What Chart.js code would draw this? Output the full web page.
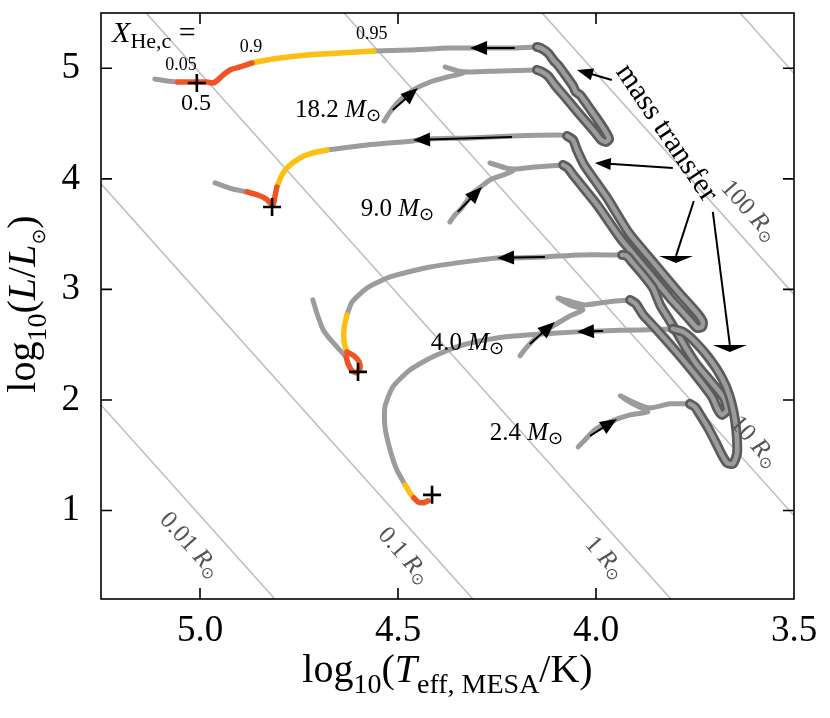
<!DOCTYPE html>
<html><head><meta charset="utf-8">
<script src="https://cdn.jsdelivr.net/npm/chart.js@4.4.1/dist/chart.umd.min.js"></script>
<style>html,body{margin:0;padding:0;background:#fff}canvas{display:block}</style>
</head><body>
<canvas id="c" width="830" height="718"></canvas>
<script>
// ---------- data: [log10 Teff, log10 L] ----------
const X_TICKS = [3.5, 4.0, 4.5, 5.0];
const Y_TICKS = [1, 2, 3, 4, 5];

// 18.2 Msun
const MS_182 = [[4.535,4.523],[4.520,4.605],[4.495,4.713],[4.462,4.804],[4.419,4.876],[4.376,4.921],[4.336,4.957],[4.356,4.985],[4.381,5.012],[4.349,4.976],[4.318,4.967],[4.242,4.976],[4.149,4.985]];
const MT_182 = [[4.149,4.985],[4.136,4.967],[4.121,4.930],[4.104,4.849],[4.078,4.740],[4.040,4.578],[4.003,4.424],[3.987,4.352],[3.975,4.334],[3.967,4.361],[3.980,4.451],[4.013,4.623],[4.040,4.759],[4.051,4.786],[4.058,4.840],[4.083,4.967],[4.096,5.030],[4.106,5.066],[4.121,5.138],[4.139,5.183],[4.149,5.193]];
const HE_182 = [[4.149,5.193],[4.205,5.183],[4.275,5.183],[4.369,5.183],[4.470,5.165],[4.561,5.156]];
const YEL_182 = [[4.561,5.156],[4.646,5.138],[4.730,5.120],[4.816,5.084],[4.869,5.048]];
const ORG_182 = [[4.869,5.048],[4.899,5.012],[4.924,4.985],[4.942,4.939],[4.955,4.894],[4.967,4.867],[4.982,4.876],[5.008,4.876],[5.056,4.876]];
const TAIL_182 = [[5.056,4.876],[5.083,4.885],[5.114,4.903]];

// 9.0 Msun
const MS_90 = [[4.369,3.610],[4.356,3.674],[4.343,3.719],[4.326,3.800],[4.311,3.872],[4.288,3.936],[4.268,3.990],[4.242,4.026],[4.210,4.071],[4.235,4.108],[4.268,4.144],[4.230,4.099],[4.205,4.089],[4.154,4.108],[4.083,4.126]];
const MT_90 = [[4.083,4.126],[4.071,4.099],[4.056,4.026],[3.997,3.764],[3.939,3.466],[3.876,3.194],[3.813,2.923],[3.763,2.724],[3.745,2.652],[3.732,2.661],[3.730,2.706],[3.745,2.787],[3.790,2.968],[3.854,3.240],[3.917,3.511],[3.970,3.818],[4.000,3.972],[4.030,4.126],[4.048,4.261],[4.058,4.352],[4.073,4.388]];
const HE_90 = [[4.073,4.388],[4.091,4.397],[4.212,4.388],[4.318,4.370],[4.427,4.361],[4.462,4.343],[4.578,4.306],[4.679,4.261]];
const YEL_90 = [[4.679,4.261],[4.715,4.234],[4.747,4.189],[4.778,4.108],[4.793,4.035],[4.806,3.927]];
const ORG_90 = [[4.806,3.927],[4.811,3.836],[4.816,3.764],[4.833,3.818],[4.854,3.854],[4.881,3.882]];
const TAIL_90 = [[4.881,3.882],[4.919,3.909],[4.962,3.963]];

// 4.0 Msun
const MS_40 = [[4.192,2.399],[4.172,2.489],[4.141,2.598],[4.104,2.679],[4.066,2.760],[4.033,2.815],[4.066,2.860],[4.096,2.923],[4.061,2.887],[4.028,2.860],[3.990,2.878],[3.952,2.896],[3.914,2.905]];
const MT_40 = [[3.914,2.905],[3.899,2.869],[3.881,2.769],[3.846,2.634],[3.795,2.426],[3.745,2.209],[3.707,2.028],[3.692,1.910],[3.682,1.865],[3.669,1.910],[3.677,2.019],[3.707,2.154],[3.745,2.317],[3.770,2.453],[3.795,2.607],[3.818,2.742],[3.838,2.860],[3.856,3.013],[3.881,3.131],[3.907,3.240],[3.922,3.303],[3.934,3.312]];
const HE_40 = [[3.934,3.312],[4.040,3.312],[4.129,3.294],[4.210,3.285],[4.250,3.285],[4.293,3.267],[4.419,3.203],[4.520,3.113],[4.578,3.013],[4.616,2.887],[4.629,2.769]];
const YEL_40 = [[4.629,2.769],[4.636,2.652],[4.636,2.525],[4.629,2.435]];
const ORG_40 = [[4.629,2.435],[4.611,2.399],[4.598,2.344],[4.596,2.290],[4.604,2.245],[4.616,2.263],[4.626,2.326],[4.631,2.390]];
const TAIL_40 = [[4.631,2.390],[4.652,2.471],[4.672,2.552],[4.689,2.634],[4.705,2.787],[4.715,2.905]];

// 2.4 Msun
const MS_24 = [[4.045,1.576],[4.028,1.639],[4.003,1.730],[3.965,1.802],[3.914,1.865],[3.869,1.892],[3.902,1.956],[3.939,2.037],[3.902,1.974],[3.864,1.928],[3.813,1.965],[3.763,1.965]];
const MT_24 = [[3.763,1.965],[3.750,1.937],[3.737,1.865],[3.717,1.748],[3.697,1.612],[3.682,1.503],[3.669,1.431],[3.654,1.422],[3.644,1.512],[3.644,1.639],[3.649,1.820],[3.662,2.028],[3.682,2.200],[3.717,2.390],[3.755,2.543],[3.780,2.616],[3.806,2.643]];
const HE_24 = [[3.806,2.643],[3.889,2.634],[3.990,2.625],[4.048,2.616],[4.167,2.589],[4.250,2.561],[4.336,2.498],[4.412,2.390],[4.470,2.272],[4.513,2.118],[4.533,1.937],[4.533,1.757],[4.520,1.549],[4.503,1.368],[4.482,1.232]];
const YEL_24 = [[4.482,1.232],[4.470,1.160],[4.460,1.115]];
const ORG_24 = [[4.460,1.115],[4.450,1.079],[4.437,1.070],[4.424,1.088]];

// X_He,c = 0.5 markers
const CROSSES = [[5.008,4.867],[4.818,3.746],[4.601,2.254],[4.414,1.142]];
// direction arrows along tracks: [tail T, tail L, tip T, tip L]
const TRACK_ARROWS = [[4.205,5.183,4.318,5.183],[4.212,4.379,4.462,4.352],[4.129,3.294,4.250,3.285],[3.982,2.625,4.048,2.616],
                      [4.513,4.623,4.450,4.822],[4.349,3.701,4.288,3.927],[4.167,2.507,4.104,2.706],[4.015,1.675,3.947,1.829]];
// "mass transfer" pointers
const MT_ARROWS = [[3.960,4.894,4.048,4.985],[3.806,4.099,4.003,4.144]];
const MT_FLAT_ARROWS = [[3.753,3.800,3.798,3.303],[3.705,3.701,3.662,2.498]];

// constant-radius lines (endpoints) and labels
const RADIUS_LINES = [[[5.25,1.955],[4.811,0.2]],[[5.25,3.955],[4.311,0.2]],[[5.136,5.5],[3.811,0.2]],[[4.636,5.5],[3.5,0.955]],[[4.136,5.5],[3.5,2.955]],[[3.636,5.5],[3.5,4.955]]];
const RADIUS_LABELS = ["0.01","0.1","1","10","100"];
const RADIUS_LABEL_POS = [[5.023,0.696],[4.482,0.599],[3.975,0.581],[3.598,1.630],[3.611,3.719]];

const MASSES = ["18.2","9.0","4.0","2.4"];
const MASS_POS = [[4.543,4.560],[4.409,3.665],[4.232,2.453],[4.083,1.639]];
const XHE_LABELS = ["0.05","0.5","0.9","0.95"];
const XHE_POS = [[5.048,4.985,18],[5.010,4.623,24],[4.871,5.147,18],[4.566,5.265,18]];

// ---------- styles ----------
const GRAY = '#9c9c9c', DARK = '#5c5c5c', YEL = '#fbc012', ORG = '#ef5426', RLINE = '#bdbdbd';
const F = (s, it) => (it ? 'italic ' : '') + s + "px 'Liberation Serif', 'Times New Roman', serif";
const SUN = s => s + "px 'DejaVu Sans', sans-serif";
const toXY = a => a.map(p => ({x: p[0], y: p[1]}));

function ds(data, color, width, order, tension) {
  return {data: toXY(data), borderColor: color, backgroundColor: color, borderWidth: width,
    pointRadius: 0, pointHoverRadius: 0, showLine: true, fill: false,
    tension: tension === undefined ? 0.25 : tension, borderCapStyle: 'round', borderJoinStyle: 'round', order: order};
}

const datasets = [];
RADIUS_LINES.forEach(l => { const d = ds(l, RLINE, 1.5, 20, 0); d.borderCapStyle = 'butt'; datasets.push(d); });
[MS_182, HE_182, TAIL_182, MS_90, HE_90, TAIL_90, MS_40, HE_40, TAIL_40, MS_24, HE_24].forEach(a => datasets.push(ds(a, GRAY, 5, 15, 0.2)));
[[MT_182, 14], [MT_90, 12], [MT_40, 10], [MT_24, 8]].forEach(([a, o]) => {
  datasets.push(ds(a, DARK, 10, o, 0.2));
  datasets.push(ds(a, GRAY, 4.5, o - 1, 0.2));
});
[YEL_182, YEL_90, YEL_40, YEL_24].forEach(a => datasets.push(ds(a, YEL, 5.5, 3)));
[ORG_182, ORG_90, ORG_40, ORG_24].forEach(a => datasets.push(ds(a, ORG, 5.5, 2)));

function runs(ctx, parts, x, y, align, angle, color, vshift) {
  ctx.save(); ctx.translate(x, y); ctx.rotate(angle || 0);
  ctx.fillStyle = color || '#000'; ctx.textBaseline = 'alphabetic'; ctx.textAlign = 'left';
  let w = 0; parts.forEach(p => { ctx.font = p[1]; w += ctx.measureText(p[0]).width; });
  let cx = align === 'center' ? -w / 2 : (align === 'right' ? -w : 0);
  parts.forEach(p => { ctx.font = p[1]; ctx.fillText(p[0], cx, (p[2] || 0) + (vshift || 0)); cx += ctx.measureText(p[0]).width; });
  ctx.restore();
}
function arrow(ctx, x0, y0, x1, y1, hl, hw) {
  const a = Math.atan2(y1 - y0, x1 - x0), c = Math.cos(a), s = Math.sin(a);
  const bx = x1 - hl * c, by = y1 - hl * s;
  ctx.beginPath(); ctx.moveTo(x0, y0); ctx.lineTo(bx + 2 * c, by + 2 * s); ctx.stroke();
  ctx.beginPath(); ctx.moveTo(x1, y1); ctx.lineTo(bx + hw * s, by - hw * c); ctx.lineTo(bx - hw * s, by + hw * c); ctx.closePath(); ctx.fill();
}

const overlay = {
  id: 'overlay',
  afterDatasetsDraw(chart) {
    const {ctx, chartArea: A, scales: {x, y}} = chart;
    const X = v => x.getPixelForValue(v), Y = v => y.getPixelForValue(v);
    ctx.save();
    // frame and inward ticks
    ctx.strokeStyle = '#000'; ctx.lineWidth = 1.6; ctx.lineCap = 'butt';
    ctx.strokeRect(A.left, A.top, A.right - A.left, A.bottom - A.top);
    ctx.beginPath();
    X_TICKS.forEach(v => { const p = X(v); if (Math.abs(p - A.right) < 2 || Math.abs(p - A.left) < 2) return;
      ctx.moveTo(p, A.bottom); ctx.lineTo(p, A.bottom - 11); ctx.moveTo(p, A.top); ctx.lineTo(p, A.top + 11); });
    Y_TICKS.forEach(v => { const p = Y(v);
      ctx.moveTo(A.left, p); ctx.lineTo(A.left + 11, p); ctx.moveTo(A.right, p); ctx.lineTo(A.right - 11, p); });
    ctx.stroke();

    // arrows
    ctx.fillStyle = '#000'; ctx.strokeStyle = '#000'; ctx.lineWidth = 2;
    TRACK_ARROWS.forEach(a => arrow(ctx, X(a[0]), Y(a[1]), X(a[2]), Y(a[3]), 17, 7));
    MT_ARROWS.forEach(a => arrow(ctx, X(a[0]), Y(a[1]), X(a[2]), Y(a[3]), 16, 6));
    MT_FLAT_ARROWS.forEach(a => {
      const bx = X(a[2]), by = Y(a[3]);
      ctx.beginPath(); ctx.moveTo(X(a[0]), Y(a[1])); ctx.lineTo(bx, by); ctx.stroke();
      ctx.beginPath(); ctx.moveTo(bx - 17, by); ctx.lineTo(bx + 17, by); ctx.lineTo(bx, by + 7); ctx.closePath(); ctx.fill();
    });

    // crosses
    ctx.lineWidth = 2.6;
    CROSSES.forEach(c => { const px = X(c[0]), py = Y(c[1]);
      ctx.beginPath(); ctx.moveTo(px - 9, py); ctx.lineTo(px + 9, py); ctx.moveTo(px, py - 9); ctx.lineTo(px, py + 9); ctx.stroke(); });

    // radius labels
    const ang = Math.atan2(Y(2) - Y(4), X(4.0) - X(4.5));
    RADIUS_LABELS.forEach((t, i) => {
      const p = RADIUS_LABEL_POS[i];
      runs(ctx, [[t + ' ', F(25)], ['R', F(25, true)], ['\u2299', SUN(16), 4]], X(p[0]), Y(p[1]), 'center', ang, '#555', 8);
    });

    // mass labels
    MASSES.forEach((m, i) => {
      const p = MASS_POS[i];
      runs(ctx, [[m + ' ', F(25)], ['M', F(25, true)], ['\u2299', SUN(18), 4]], X(p[0]), Y(p[1]), 'right', 0, '#000', 0);
    });

    // X_He,c labels
    XHE_LABELS.forEach((t, i) => { const p = XHE_POS[i]; runs(ctx, [[t, F(p[2])]], X(p[0]), Y(p[1]), 'center', 0, '#000', 0); });
    runs(ctx, [['X', F(30, true)], ['He,c', F(22), 6], [' =', F(30)]], X(5.222), Y(5.238), 'left', 0, '#000', 0);

    // mass transfer label
    runs(ctx, [['mass transfer', F(30)]], X(3.818), Y(4.424), 'center', 56 * Math.PI / 180, '#000', 10);

    // axis titles
    const cxm = (A.left + A.right) / 2, cym = (A.top + A.bottom) / 2;
    runs(ctx, [['log', F(40)], ['10', F(28), 11], ['(', F(40)], ['T', F(40, true)], ['eff, MESA', F(28), 11], ['/K)', F(40)]], cxm, 682, 'center', 0, '#000', 0);
    runs(ctx, [['log', F(40)], ['10', F(28), 11], ['(', F(40)], ['L', F(40, true)], ['/', F(40)], ['L', F(40, true)], ['\u2299', SUN(19), 10], [')', F(40)]], 35, cym - 2, 'center', -Math.PI / 2, '#000', 0);
    ctx.restore();
  }
};

new Chart(document.getElementById('c'), {
  type: 'scatter',
  data: {datasets: datasets},
  options: {
    responsive: false, animation: false, devicePixelRatio: 1,
    layout: {padding: {left: 0, right: 36, top: 13, bottom: 0}},
    plugins: {legend: {display: false}, tooltip: {enabled: false}},
    events: [],
    scales: {
      x: {type: 'linear', reverse: true, min: 3.5, max: 5.25,
        grid: {display: false, drawTicks: false}, border: {display: false},
        ticks: {stepSize: 0.5, includeBounds: false, padding: 10, maxRotation: 0, autoSkip: false, color: '#000',
          font: {family: "'Liberation Serif', serif", size: 37}, callback: v => Number(v).toFixed(1)},
        afterFit: s => { s.height = 119; s.paddingLeft = 0; s.paddingRight = 0; s.paddingTop = 0; s.paddingBottom = 0; }},
      y: {type: 'linear', min: 0.2, max: 5.5,
        grid: {display: false, drawTicks: false}, border: {display: false},
        ticks: {stepSize: 1, includeBounds: false, padding: 21, color: '#000',
          font: {family: "'Liberation Serif', serif", size: 37}, callback: v => String(Math.round(v))},
        afterFit: s => { s.width = 101; s.paddingLeft = 0; s.paddingRight = 0; s.paddingTop = 0; s.paddingBottom = 0; }}
    }
  },
  plugins: [overlay]
});
</script>
</body></html>
